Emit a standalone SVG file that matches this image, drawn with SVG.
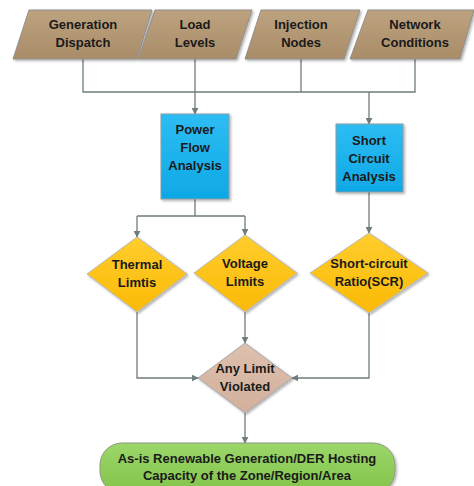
<svg xmlns="http://www.w3.org/2000/svg" width="474" height="486" viewBox="0 0 474 486">
<defs>
<linearGradient id="gTan" x1="0" y1="0" x2="0" y2="1"><stop offset="0" stop-color="#BDA27F"/><stop offset="1" stop-color="#A98D69"/></linearGradient>
<linearGradient id="gBlue" x1="0" y1="0" x2="0" y2="1"><stop offset="0" stop-color="#2DBDF3"/><stop offset="1" stop-color="#0FA8E6"/></linearGradient>
<linearGradient id="gYel" x1="0" y1="0" x2="0" y2="1"><stop offset="0" stop-color="#FFCD2E"/><stop offset="1" stop-color="#FBBA06"/></linearGradient>
<linearGradient id="gPink" x1="0" y1="0" x2="0" y2="1"><stop offset="0" stop-color="#DDC0AE"/><stop offset="1" stop-color="#D2B09C"/></linearGradient>
<linearGradient id="gGreen" x1="0" y1="0" x2="0" y2="1"><stop offset="0" stop-color="#9CD66A"/><stop offset="1" stop-color="#82C44A"/></linearGradient>
<filter id="sh" x="-10%" y="-10%" width="130%" height="130%"><feDropShadow dx="1.5" dy="1.5" stdDeviation="1.2" flood-color="#000" flood-opacity="0.3"/></filter>
<marker id="arr" viewBox="0 0 10 10" refX="9" refY="5" markerWidth="7" markerHeight="7" markerUnits="userSpaceOnUse" orient="auto"><path d="M0,0 L10,5 L0,10 Z" fill="#6F7C7C"/></marker>
</defs>
<style>
.lbl{font-family:"Liberation Sans",Arial,sans-serif;font-weight:bold;font-size:13px;fill:#1A1A1A;text-anchor:middle}
.tan{fill:url(#gTan);stroke:#8E8E8E;stroke-width:1;filter:url(#sh)}
.blue{fill:url(#gBlue);stroke:#8A9BA3;stroke-width:1;filter:url(#sh)}
.yel{fill:url(#gYel);stroke:#B8B8B8;stroke-width:1;filter:url(#sh)}
.pink{fill:url(#gPink);stroke:#A8A8A8;stroke-width:1;filter:url(#sh)}
.green{fill:url(#gGreen);stroke:#8A9A80;stroke-width:1;filter:url(#sh)}
.c{fill:none;stroke:#6F7C7C;stroke-width:1.3}
.ca{fill:none;stroke:#6F7C7C;stroke-width:1.3;marker-end:url(#arr)}
</style>
<g id="connectors">
<path class="c" d="M83,59 V92 H415 V59"/>
<path class="c" d="M301,59 V92"/>
<path class="ca" d="M195,59 V114"/>
<path class="ca" d="M369,92 V124"/>
<path class="c" d="M195,199 V216 M137,216 H245"/>
<path class="ca" d="M137,216 V237"/>
<path class="ca" d="M245,216 V235"/>
<path class="ca" d="M369,192 V233"/>
<path class="ca" d="M137,312 V378 H198"/>
<path class="ca" d="M245,312 V343"/>
<path class="ca" d="M369,313 V378 H292"/>
<path class="ca" d="M245,413 V443"/>
</g>
<g id="generation-dispatch">
<polygon class="tan" points="29,10 152,10 137,59 13,59"/>
<text class="lbl" x="83" y="29">Generation</text>
<text class="lbl" x="83" y="47">Dispatch</text>
</g>
<g id="load-levels">
<polygon class="tan" points="155,10 252,10 236,59 138,59"/>
<text class="lbl" x="195" y="29">Load</text>
<text class="lbl" x="195" y="47">Levels</text>
</g>
<g id="injection-nodes">
<polygon class="tan" points="261,10 360,10 344,59 245,59"/>
<text class="lbl" x="301" y="29">Injection</text>
<text class="lbl" x="301" y="47">Nodes</text>
</g>
<g id="network-conditions">
<polygon class="tan" points="368,10 474,10 460,59 350,59"/>
<text class="lbl" x="415" y="29">Network</text>
<text class="lbl" x="415" y="47">Conditions</text>
</g>
<g id="power-flow-analysis">
<rect class="blue" x="161" y="114" width="68" height="85"/>
<text class="lbl" x="195" y="134">Power</text>
<text class="lbl" x="195" y="152">Flow</text>
<text class="lbl" x="195" y="170">Analysis</text>
</g>
<g id="short-circuit-analysis">
<rect class="blue" x="336" y="124" width="67" height="68"/>
<text class="lbl" x="369" y="145">Short</text>
<text class="lbl" x="369" y="163">Circuit</text>
<text class="lbl" x="369" y="181">Analysis</text>
</g>
<g id="thermal-limits">
<polygon class="yel" points="137,237 187,274 137,312 87,274"/>
<text class="lbl" x="137" y="269">Thermal</text>
<text class="lbl" x="137" y="287">Limtis</text>
</g>
<g id="voltage-limits">
<polygon class="yel" points="245,235 297,273 245,312 194,273"/>
<text class="lbl" x="245" y="268">Voltage</text>
<text class="lbl" x="245" y="286">Limits</text>
</g>
<g id="short-circuit-ratio">
<polygon class="yel" points="369,233 428,273 369,313 310,273"/>
<text class="lbl" x="369" y="268">Short-circuit</text>
<text class="lbl" x="369" y="286">Ratio(SCR)</text>
</g>
<g id="any-limit-violated">
<polygon class="pink" points="245,343 292,378 245,413 198,378"/>
<text class="lbl" x="245" y="373">Any Limit</text>
<text class="lbl" x="245" y="391">Violated</text>
</g>
<g id="hosting-capacity">
<rect class="green" x="100" y="443" width="295" height="50" rx="22" ry="22"/>
<text class="lbl" x="247" y="463">As-is Renewable Generation/DER Hosting</text>
<text class="lbl" x="247" y="480">Capacity of the Zone/Region/Area</text>
</g>
</svg>
